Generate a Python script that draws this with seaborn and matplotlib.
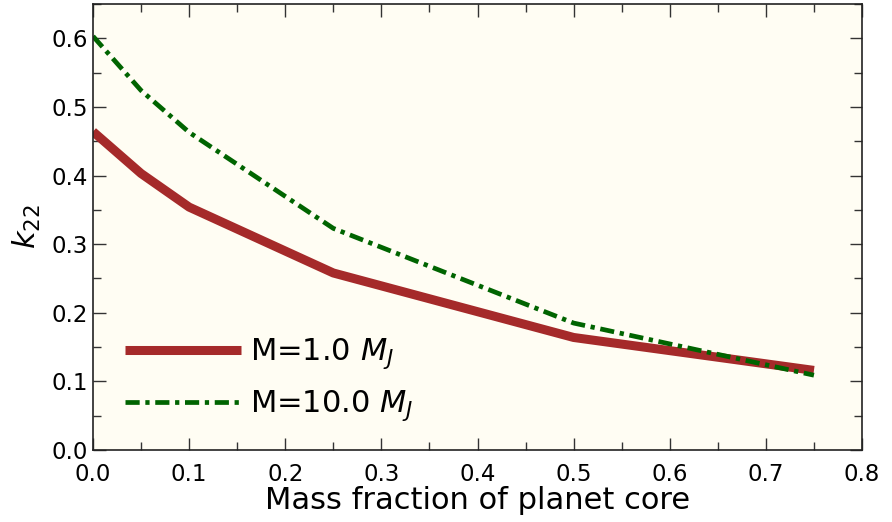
import matplotlib
matplotlib.use("Agg")
import matplotlib.pyplot as plt
import seaborn as sns
import pandas as pd
from matplotlib.ticker import MultipleLocator

# Love number k22 versus core mass fraction for two planet masses
core_fraction = [0.0, 0.05, 0.1, 0.25, 0.5, 0.75]
k22_1mj = [0.464, 0.403, 0.354, 0.258, 0.164, 0.116]
k22_10mj = [0.603, 0.524, 0.463, 0.323, 0.185, 0.109]
labels = ["M=1.0 $M_J$", "M=10.0 $M_J$"]

df = pd.concat([
    pd.DataFrame({"x": core_fraction, "k": k22_1mj, "model": labels[0]}),
    pd.DataFrame({"x": core_fraction, "k": k22_10mj, "model": labels[1]}),
])

sns.set_theme(style="ticks")
plt.rcParams["font.family"] = ["DejaVu Sans"]
plt.rcParams["text.color"] = "black"
plt.rcParams["axes.labelcolor"] = "black"
plt.rcParams["xtick.labelcolor"] = "black"
plt.rcParams["ytick.labelcolor"] = "black"

fig = plt.figure(figsize=(8.92, 5.22), dpi=100)
ax = fig.add_axes([93 / 892, 72 / 522, (862 - 93) / 892, (450 - 4) / 522])
ax.set_facecolor("#fffdf3")

sns.lineplot(data=df[df.model == labels[0]], x="x", y="k", ax=ax,
             color="#a52a2a", lw=6.5, label=labels[0], solid_capstyle="butt")
sns.lineplot(data=df[df.model == labels[1]], x="x", y="k", ax=ax,
             color="#006400", lw=3.4, ls=(0, (3.0, 1.2, 0.9, 1.2)), label=labels[1])

ax.set_xlim(0, 0.8)
ax.set_ylim(0, 0.65)
ax.xaxis.set_major_locator(MultipleLocator(0.1))
ax.xaxis.set_minor_locator(MultipleLocator(0.05))
ax.yaxis.set_major_locator(MultipleLocator(0.1))
ax.yaxis.set_minor_locator(MultipleLocator(0.05))
ax.tick_params(which="both", direction="in", top=True, right=True, labelsize=16.5)
ax.tick_params(axis="y", which="both", pad=3.5)
ax.tick_params(axis="x", which="both", pad=9.5)
ax.tick_params(which="major", length=9, width=1, color="#333333")
ax.tick_params(which="minor", length=6, width=1, color="#333333")
for s in ax.spines.values():
    s.set_linewidth(1.2)
    s.set_color("#222222")

ax.set_xlabel("Mass fraction of planet core", fontsize=22, labelpad=0)
ax.set_ylabel("$k_{22}$", fontsize=22, labelpad=6)

ax.legend(loc="lower left", bbox_to_anchor=(0.006, -0.002), frameon=False,
          fontsize=22, handlelength=3.8, handletextpad=0.3, labelspacing=0.56)

fig.savefig("out.png", dpi=100)
